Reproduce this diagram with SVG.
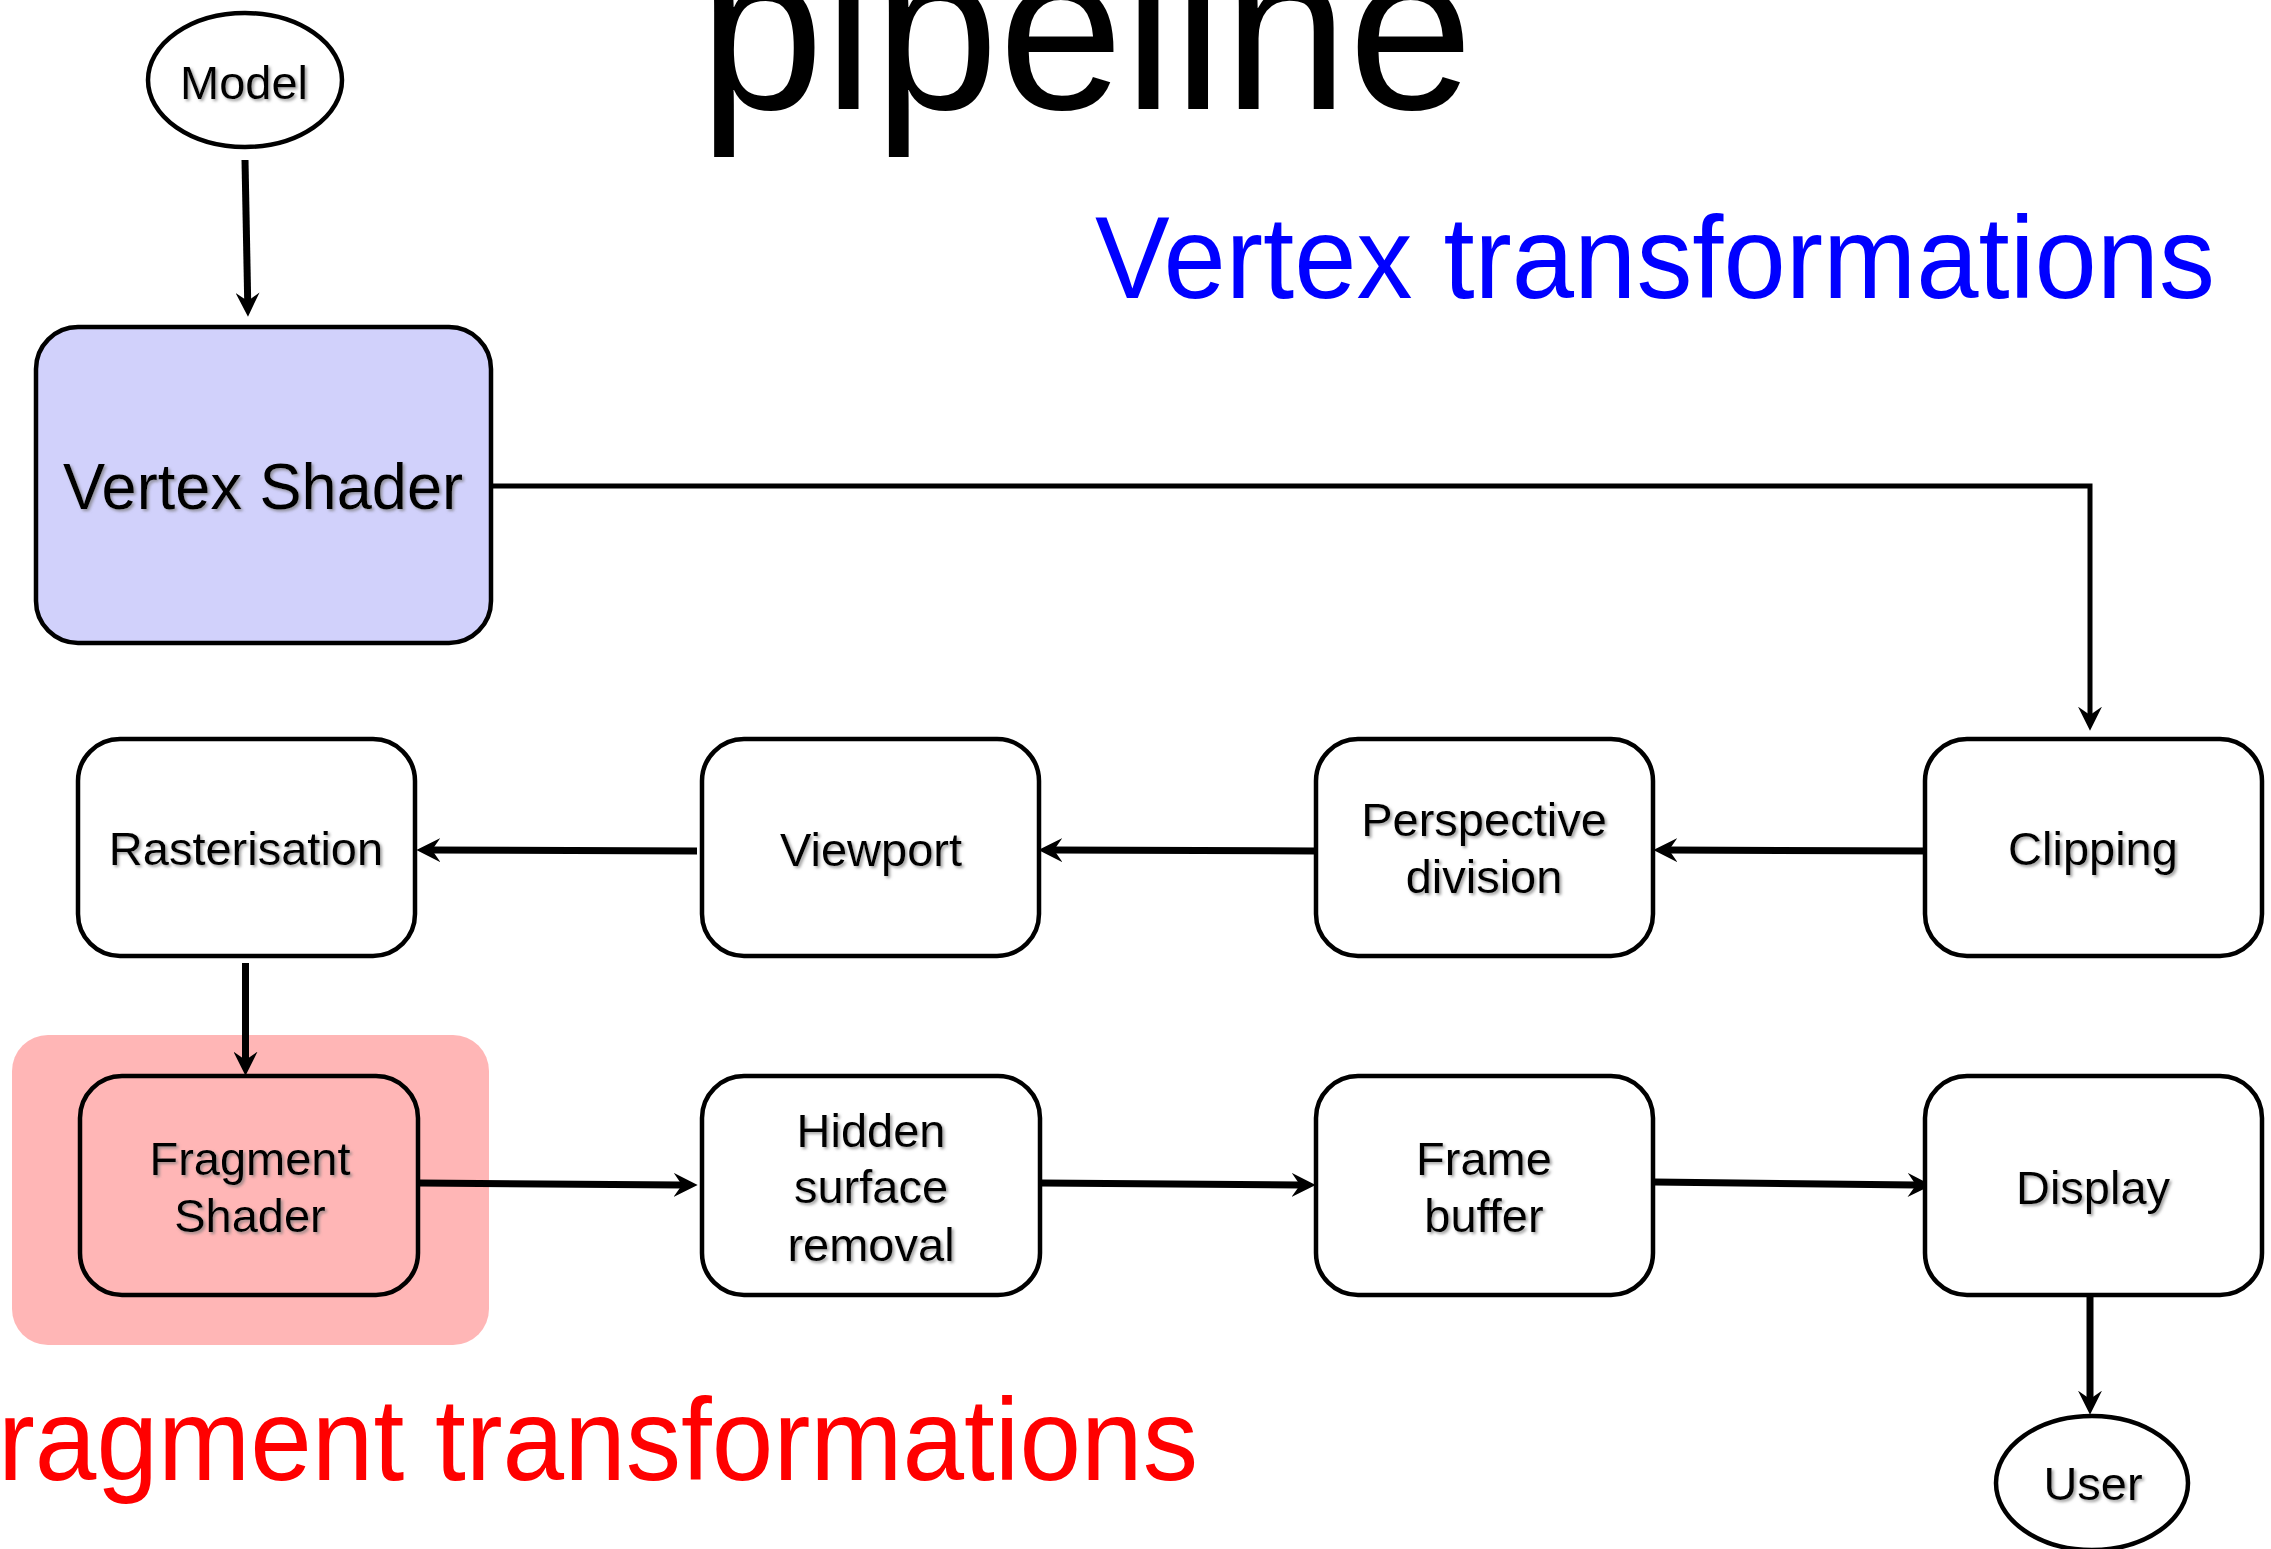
<svg xmlns="http://www.w3.org/2000/svg" width="2271" height="1549" viewBox="0 0 2271 1549">
<style>
.box{fill:#ffffff;stroke:#000;stroke-width:4.5}
.lbl{font-family:"Liberation Sans",Arial,sans-serif;font-size:47px;fill:#000;text-anchor:middle;filter:url(#sh)}
.conn{fill:none;stroke:#000;stroke-width:7}
.big{font-family:"Liberation Sans",Arial,sans-serif;font-size:117px}
</style>
<defs>
<filter id="sh" x="-10%" y="-20%" width="130%" height="150%">
<feDropShadow dx="2" dy="2" stdDeviation="1.5" flood-color="#777" flood-opacity="0.7"/>
</filter>
<marker id="arr" markerUnits="userSpaceOnUse" markerWidth="24" markerHeight="24" viewBox="0 0 23 23" refX="8" refY="11.5" orient="auto">
<path d="M0,0 L23,11.5 L0,23 L8,11.5 Z" fill="#000"/>
</marker>
</defs>
<rect width="2271" height="1549" fill="#fff"/>

<text x="699" y="109" class="big" style="font-size:230px" textLength="774" lengthAdjust="spacingAndGlyphs" fill="#000">pipeline</text>
<text x="1095" y="298" class="big" textLength="1120" lengthAdjust="spacingAndGlyphs" fill="#0000ff">Vertex transformations</text>
<rect id="fragment-region" x="12" y="1035" width="477" height="310" rx="36" fill="#ffb6b6"/>
<text x="-2" y="1480" class="big" textLength="1200" lengthAdjust="spacingAndGlyphs" fill="#ff0000">ragment transformations</text>

<g id="connectors">
<path class="conn" d="M245,160 L247.7,301" marker-end="url(#arr)"/>
<path class="conn" style="stroke-width:5" d="M491,486 L2090,486 L2090,715" marker-end="url(#arr)"/>
<path class="conn" d="M1931,851 L1669,850" marker-end="url(#arr)"/>
<path class="conn" d="M1316,851 L1054,850" marker-end="url(#arr)"/>
<path class="conn" d="M697,851 L432,850" marker-end="url(#arr)"/>
<path class="conn" d="M245.5,963 L245.5,1060" marker-end="url(#arr)"/>
<path class="conn" d="M419,1183 L682,1185" marker-end="url(#arr)"/>
<path class="conn" d="M1041,1183 L1300,1185" marker-end="url(#arr)"/>
<path class="conn" d="M1654,1182 L1916,1185" marker-end="url(#arr)"/>
<path class="conn" d="M2090,1297 L2090,1399" marker-end="url(#arr)"/>
</g>

<g id="model">
<ellipse cx="245" cy="80" rx="97" ry="67" class="box"/>
<text x="244" y="99" class="lbl">Model</text>
</g>
<g id="vertex-shader">
<rect x="36" y="327" width="455" height="316" rx="42" class="box" style="fill:#d1d1fb"/>
<text x="263" y="509" class="lbl" style="font-size:64px" textLength="400" lengthAdjust="spacingAndGlyphs">Vertex Shader</text>
</g>
<g id="rasterisation">
<rect x="78" y="739" width="337" height="217" rx="42" class="box"/>
<text x="246" y="865" class="lbl">Rasterisation</text>
</g>
<g id="viewport">
<rect x="702" y="739" width="337" height="217" rx="42" class="box"/>
<text x="871" y="866" class="lbl">Viewport</text>
</g>
<g id="perspective-division">
<rect x="1316" y="739" width="337" height="217" rx="42" class="box"/>
<text x="1484" y="836" class="lbl">Perspective</text>
<text x="1484" y="893" class="lbl">division</text>
</g>
<g id="clipping">
<rect x="1925" y="739" width="337" height="217" rx="42" class="box"/>
<text x="2093" y="865" class="lbl">Clipping</text>
</g>
<g id="fragment-shader">
<rect x="80" y="1076" width="338" height="219" rx="42" class="box" style="fill:#ffb6b6"/>
<text x="250" y="1175" class="lbl">Fragment</text>
<text x="250" y="1232" class="lbl">Shader</text>
</g>
<g id="hidden-surface-removal">
<rect x="702" y="1076" width="338" height="219" rx="42" class="box"/>
<text x="871" y="1147" class="lbl">Hidden</text>
<text x="871" y="1203" class="lbl">surface</text>
<text x="871" y="1261" class="lbl">removal</text>
</g>
<g id="frame-buffer">
<rect x="1316" y="1076" width="337" height="219" rx="42" class="box"/>
<text x="1484" y="1175" class="lbl">Frame</text>
<text x="1484" y="1232" class="lbl">buffer</text>
</g>
<g id="display">
<rect x="1925" y="1076" width="337" height="219" rx="42" class="box"/>
<text x="2093" y="1204" class="lbl">Display</text>
</g>
<g id="user">
<ellipse cx="2092" cy="1483" rx="96" ry="67" class="box"/>
<text x="2093" y="1500" class="lbl">User</text>
</g>
</svg>
